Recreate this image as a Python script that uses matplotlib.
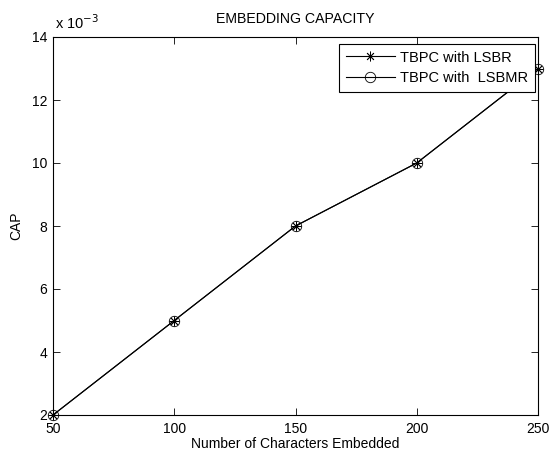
import matplotlib.pyplot as plt
from matplotlib.ticker import FuncFormatter

plt.rcParams['font.family'] = ['Liberation Sans', 'DejaVu Sans']

chars = [50, 100, 150, 200, 250]
cap_lsbr = [0.002, 0.005, 0.008, 0.010, 0.013]
cap_lsbmr = [0.002, 0.005, 0.008, 0.010, 0.013]

fig = plt.figure(figsize=(5.5, 4.54), dpi=100)
ax = fig.add_axes([53/550, 1-415/454, (538-53)/550, (415-37)/454])

ax.plot(chars, cap_lsbr, color='black', linewidth=0.8, marker=(8, 2, 0),
        markersize=7, markeredgewidth=0.6, label='TBPC with LSBR', clip_on=False)
ax.plot(chars, cap_lsbmr, color='black', linewidth=0.8, marker='o',
        markersize=7.5, markerfacecolor='none', markeredgewidth=0.6,
        label='TBPC with  LSBMR', clip_on=False)

ax.set_xlim(50, 250)
ax.set_ylim(0.002, 0.014)
ax.set_xticks([50, 100, 150, 200, 250])
ax.set_yticks([0.002, 0.004, 0.006, 0.008, 0.010, 0.012, 0.014])
ax.yaxis.set_major_formatter(FuncFormatter(lambda v, p: '%g' % round(v*1e3, 6)))
ax.tick_params(direction='in', top=True, right=True, length=5, width=0.6,
               labelsize=10)
ax.tick_params(axis='x', pad=5)
ax.tick_params(axis='y', pad=4)
for s in ax.spines.values():
    s.set_linewidth(0.8)

ax.set_title('EMBEDDING CAPACITY', fontsize=10.2, pad=10)
ax.set_xlabel('Number of Characters Embedded', fontsize=10, labelpad=1)
ax.set_ylabel('CAP', fontsize=10, labelpad=6)
fig.text(55/550, 1-29/454, r'x 10$^{-3}$', fontsize=10.5, ha='left', va='baseline')

leg = ax.legend(loc='upper right', bbox_to_anchor=(1-3/485, 1-7/378), fontsize=10.5,
                fancybox=False, edgecolor='black', framealpha=1,
                borderaxespad=0, handlelength=3.4, labelspacing=0.45,
                borderpad=0.45, handletextpad=0.35, numpoints=1)
leg.get_frame().set_linewidth(0.8)

fig.savefig('out.png', dpi=100)
